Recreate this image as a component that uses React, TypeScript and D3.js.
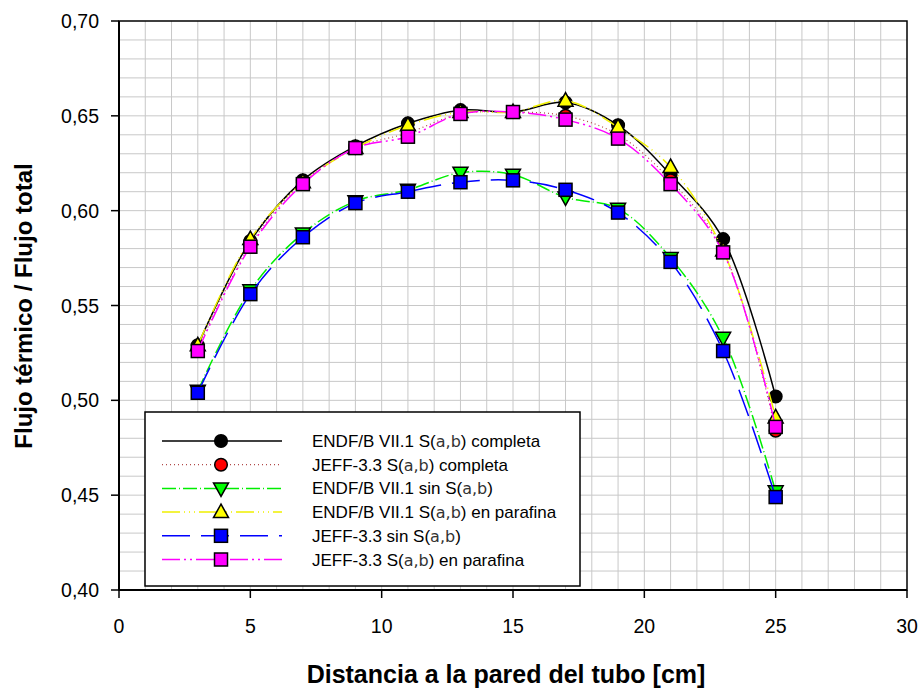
import React from "react";
import * as d3 from "d3";

const xs = [3, 5, 7, 9, 11, 13, 15, 17, 19, 21, 23, 25];
const endfCompleta = [0.529, 0.584, 0.616, 0.634, 0.646, 0.653, 0.652, 0.657, 0.645, 0.619, 0.585, 0.502];
const jeffCompleta = [0.527, 0.582, 0.615, 0.633, 0.641, 0.651, 0.652, 0.650, 0.640, 0.616, 0.579, 0.484];
const endfSin = [0.505, 0.558, 0.588, 0.605, 0.611, 0.620, 0.619, 0.607, 0.601, 0.575, 0.533, 0.452];
const endfParafina = [0.529, 0.585, 0.615, 0.633, 0.645, 0.652, 0.652, 0.658, 0.644, 0.623, 0.579, 0.491];
const jeffSin = [0.504, 0.556, 0.586, 0.604, 0.610, 0.615, 0.616, 0.611, 0.599, 0.573, 0.526, 0.449];
const jeffParafina = [0.526, 0.581, 0.614, 0.633, 0.639, 0.651, 0.652, 0.648, 0.638, 0.614, 0.578, 0.486];

const xTicks = [0, 5, 10, 15, 20, 25, 30];
const yTicks = [0.4, 0.45, 0.5, 0.55, 0.6, 0.65, 0.7];

const seriesNames = [
  ["ENDF/B VII.1 ", "a,b", ") completa"],
  ["JEFF-3.3 ", "a,b", ") completa"],
  ["ENDF/B VII.1 sin ", "a,b", ")"],
  ["ENDF/B VII.1 ", "a,b", ") en parafina"],
  ["JEFF-3.3 sin ", "a,b", ")"],
  ["JEFF-3.3 ", "a,b", ") en parafina"],
];

type Style = { color: string; fill: string; dash: string; marker: string; width: number };
const styles: Style[] = [
  { color: "#000000", fill: "#000000", dash: "", marker: "circle", width: 1.5 },
  { color: "#b04848", fill: "#ff0000", dash: "1,3", marker: "circle", width: 1.2 },
  { color: "#00ee00", fill: "#00ff00", dash: "14,3,1,3", marker: "down", width: 1.5 },
  { color: "#f0f000", fill: "#ffff00", dash: "18,4,1,4,1,4,1,4", marker: "up", width: 1.5 },
  { color: "#0000ff", fill: "#0000ff", dash: "28,11", marker: "square", width: 1.5 },
  { color: "#ff00ff", fill: "#ff00ff", dash: "18,4,2,4,2,4", marker: "square", width: 1.5 },
];
const seriesData = [endfCompleta, jeffCompleta, endfSin, endfParafina, jeffSin, jeffParafina];

const L = 119, R = 907, T = 21, B = 590;

function Marker({ kind, x, y, fill }: { kind: string; x: number; y: number; fill: string }) {
  const sw = 1.5;
  if (kind === "circle") return <circle cx={x} cy={y} r={6.3} fill={fill} stroke="#000" strokeWidth={sw} />;
  if (kind === "square") return <rect x={x - 6.5} y={y - 6.5} width={13} height={13} fill={fill} stroke="#000" strokeWidth={sw} />;
  if (kind === "up") {
    const p = `${x},${y - 8} ${x - 7.5},${y + 5.5} ${x + 7.5},${y + 5.5}`;
    return <polygon points={p} fill={fill} stroke="#000" strokeWidth={sw} />;
  }
  const p = `${x},${y + 8} ${x - 7.5},${y - 5.5} ${x + 7.5},${y - 5.5}`;
  return <polygon points={p} fill={fill} stroke="#000" strokeWidth={sw} />;
}

export default function App() {
  const x = d3.scaleLinear().domain([0, 30]).range([L, R]);
  const y = d3.scaleLinear().domain([0.4, 0.7]).range([B, T]);
  const line = d3
    .line<number>()
    .x((_, i) => x(xs[i]))
    .y((d) => y(d))
    .curve(d3.curveCatmullRom.alpha(0.5));

  const gx = d3.range(1, 30);
  const gy = d3.range(1, 30).map((i) => 0.4 + i * 0.01);
  const font = "'Liberation Sans', Arial, sans-serif";
  const fmt = (v: number) => v.toFixed(2).replace(".", ",");

  const legX = 145, legY = 412, rowY0 = 441, rowDy = 23.7;

  return (
    <svg width={923} height={691} style={{ position: "absolute", left: 0, top: 0 }} fontFamily={font}>
      <rect x={0} y={0} width={923} height={691} fill="#fff" />
      {gx.map((v) => (
        <line key={"gx" + v} x1={x(v)} x2={x(v)} y1={T} y2={B} stroke="#c8c8c8" strokeWidth={1} />
      ))}
      {gy.map((v, i) => (
        <line key={"gy" + i} x1={L} x2={R} y1={y(v)} y2={y(v)} stroke="#c8c8c8" strokeWidth={1} />
      ))}
      <rect x={L} y={T} width={R - L} height={B - T} fill="none" stroke="#000" strokeWidth={1.5} />
      <line x1={L} x2={L} y1={T} y2={B} stroke="#000" strokeWidth={2} />
      <line x1={L} x2={R} y1={B} y2={B} stroke="#000" strokeWidth={2} />
      {yTicks.map((v) => (
        <g key={"yt" + v}>
          <line x1={L - 8} x2={L} y1={y(v)} y2={y(v)} stroke="#000" strokeWidth={1.5} />
          <text x={99} y={y(v) + 7} textAnchor="end" fontSize={19.5}>
            {fmt(v)}
          </text>
        </g>
      ))}
      {xTicks.map((v) => (
        <g key={"xt" + v}>
          <line x1={x(v)} x2={x(v)} y1={B} y2={B + 8} stroke="#000" strokeWidth={1.5} />
          <text x={x(v)} y={633} textAnchor="middle" fontSize={19.5}>
            {v}
          </text>
        </g>
      ))}
      {seriesData.map((data, si) => {
        const st = styles[si];
        return (
          <g key={"s" + si}>
            <path d={line(data) || ""} fill="none" stroke={st.color} strokeWidth={st.width} strokeDasharray={st.dash} />
            {data.map((v, i) => (
              <Marker key={i} kind={st.marker} x={x(xs[i])} y={y(v)} fill={st.fill} />
            ))}
          </g>
        );
      })}
      <rect x={legX} y={legY} width={435} height={174} fill="#fff" stroke="#000" strokeWidth={1.5} />
      {seriesNames.map((nm, si) => {
        const st = styles[si];
        const yy = rowY0 + si * rowDy;
        return (
          <g key={"lg" + si}>
            <line x1={162} x2={282} y1={yy} y2={yy} stroke={st.color} strokeWidth={st.width} strokeDasharray={st.dash} />
            <Marker kind={st.marker} x={221} y={yy} fill={st.fill} />
            <text x={312} y={yy + 6} fontSize={17}>
              {nm[0]}S(<tspan fontFamily="'DejaVu Sans', sans-serif" fill="#333" fontSize={16}>{nm[1]}</tspan>{nm[2]}
            </text>
          </g>
        );
      })}
      <text x={506} y={683} textAnchor="middle" fontSize={25} fontWeight="bold">
        Distancia a la pared del tubo [cm]
      </text>
      <text transform={`translate(32,306) rotate(-90)`} textAnchor="middle" fontSize={24} fontWeight="bold">
        Flujo térmico / Flujo total
      </text>
    </svg>
  );
}
